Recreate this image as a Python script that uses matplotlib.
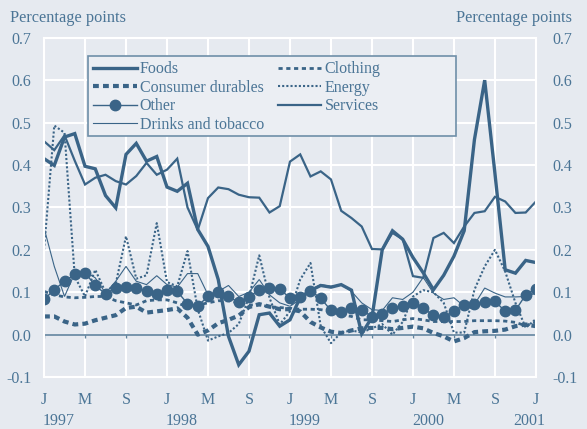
import matplotlib as mpl

mpl.use("Agg")

import matplotlib.pyplot as plt
import matplotlib.transforms as mtransforms
from matplotlib.patches import Rectangle
import numpy as np

# monthly data, Jan 1997 .. Jan 2001 (percentage points)
months = np.arange(49)
tick_labels = ["J", "M", "S"] * 4 + ["J"]
years = ["1997", "1998", "1999", "2000", "2001"]

foods = [0.415, 0.399, 0.466, 0.474, 0.397, 0.391, 0.328, 0.299, 0.425, 0.451,
         0.409, 0.420, 0.348, 0.338, 0.357, 0.248, 0.208, 0.130, -0.004, -0.071,
         -0.039, 0.047, 0.051, 0.020, 0.035, 0.088, 0.104, 0.116, 0.112, 0.118,
         0.105, 0.002, 0.041, 0.200, 0.245, 0.225, 0.182, 0.146, 0.106, 0.140,
         0.185, 0.245, 0.460, 0.600, 0.380, 0.153, 0.145, 0.175, 0.170]
durables = [0.043, 0.043, 0.031, 0.024, 0.026, 0.034, 0.040, 0.046, 0.063, 0.066,
            0.052, 0.055, 0.058, 0.062, 0.040, 0.000, 0.010, 0.027, 0.035, 0.045,
            0.065, 0.072, 0.066, 0.060, 0.060, 0.055, 0.030, 0.017, 0.007, 0.004,
            0.010, 0.015, 0.016, 0.016, 0.013, 0.016, 0.019, 0.015, 0.004, -0.004,
            -0.016, -0.008, 0.006, 0.008, 0.009, 0.012, 0.020, 0.024, 0.020]
other = [0.083, 0.106, 0.126, 0.142, 0.146, 0.116, 0.096, 0.110, 0.112, 0.110,
         0.104, 0.096, 0.106, 0.102, 0.073, 0.068, 0.090, 0.100, 0.090, 0.076,
         0.089, 0.106, 0.110, 0.108, 0.086, 0.089, 0.104, 0.086, 0.057, 0.053,
         0.063, 0.059, 0.042, 0.049, 0.062, 0.068, 0.075, 0.062, 0.046, 0.041,
         0.055, 0.071, 0.073, 0.077, 0.079, 0.055, 0.057, 0.094, 0.108]
drinks = [0.252, 0.161, 0.090, 0.145, 0.149, 0.134, 0.098, 0.126, 0.161, 0.126,
          0.118, 0.139, 0.118, 0.112, 0.144, 0.144, 0.094, 0.102, 0.116, 0.090,
          0.100, 0.130, 0.094, 0.075, 0.067, 0.083, 0.106, 0.118, 0.114, 0.118,
          0.102, 0.075, 0.059, 0.057, 0.087, 0.083, 0.100, 0.135, 0.098, 0.083,
          0.087, 0.067, 0.071, 0.110, 0.098, 0.089, 0.089, 0.090, 0.098]
clothing = [0.102, 0.094, 0.089, 0.087, 0.088, 0.090, 0.090, 0.080, 0.075, 0.070,
            0.080, 0.082, 0.082, 0.075, 0.065, 0.070, 0.075, 0.080, 0.080, 0.075,
            0.070, 0.070, 0.066, 0.064, 0.062, 0.060, 0.060, 0.059, 0.055, 0.047,
            0.043, 0.035, 0.035, 0.033, 0.031, 0.035, 0.038, 0.035, 0.031, 0.031,
            0.031, 0.031, 0.033, 0.033, 0.033, 0.032, 0.029, 0.021, 0.030]
energy = [0.200, 0.493, 0.476, 0.137, 0.090, 0.153, 0.100, 0.120, 0.232, 0.132,
          0.140, 0.263, 0.124, 0.114, 0.197, 0.060, -0.014, -0.004, 0.004, 0.025,
          0.088, 0.187, 0.087, 0.024, 0.055, 0.130, 0.169, 0.020, -0.020, 0.005,
          0.010, 0.005, 0.015, 0.025, 0.000, 0.030, 0.090, 0.105, 0.100, 0.075,
          0.005, 0.005, 0.106, 0.161, 0.200, 0.149, 0.075, 0.016, 0.037]
services = [0.456, 0.435, 0.470, 0.410, 0.354, 0.370, 0.377, 0.362, 0.354, 0.374,
            0.405, 0.377, 0.389, 0.415, 0.300, 0.247, 0.322, 0.347, 0.343, 0.330,
            0.324, 0.323, 0.288, 0.303, 0.408, 0.425, 0.373, 0.385, 0.366, 0.292,
            0.275, 0.255, 0.202, 0.201, 0.240, 0.225, 0.138, 0.134, 0.228, 0.240,
            0.216, 0.255, 0.287, 0.291, 0.325, 0.314, 0.287, 0.288, 0.314]

BG = "#e6eaf0"
LINE = "#3a6487"
TEXT = "#4b7596"

mpl.rcParams.update({
    "font.family": ["Liberation Serif", "DejaVu Serif"],
    "font.size": 11.5,
    "text.color": TEXT,
    "lines.solid_joinstyle": "miter",
})

fig = plt.figure(figsize=(5.87, 4.29), dpi=100, facecolor=BG)
ax = fig.add_axes([0.075, 0.121, 0.838, 0.791], facecolor=BG)

ax.plot(months, foods, color=LINE, lw=2.4, label="Foods")
ax.plot(months, durables, color=LINE, lw=3.0, dashes=(1.4, 1.0), label="Consumer durables")
ax.plot(months, other, color=LINE, lw=1.0, marker="o", ms=7.5, label="Other")
ax.plot(months, drinks, color=LINE, lw=0.8, label="Drinks and tobacco")
ax.plot(months, clothing, color=LINE, lw=2.0, dashes=(1.5, 1.3), label="Clothing")
ax.plot(months, energy, color=LINE, lw=1.5, dashes=(1.0, 1.0), label="Energy")
ax.plot(months, services, color=LINE, lw=1.6, label="Services")

ax.set_xlim(0, 48)
ax.set_ylim(-0.1, 0.7)
ticks = months[::4]
yticks = np.arange(-0.1, 0.71, 0.1)
ax.set_xticks(ticks, tick_labels)
ax.set_yticks(yticks, [f"{v:.1f}" for v in yticks])
ax.grid(True, color="white", lw=1.5)
ax.set_axisbelow(True)
for s in ax.spines.values():
    s.set_color("white")
    s.set_linewidth(1.5)
ax.tick_params(length=0, colors=TEXT, labelsize=11.5)
ax.tick_params(axis="x", pad=11)
ax.tick_params(axis="y", pad=9)

sec = ax.secondary_yaxis("right")
sec.set_yticks(yticks, [f"{v:.1f}" for v in yticks])
sec.tick_params(length=0, colors=TEXT, labelsize=11.5, pad=12)
for s in sec.spines.values():
    s.set_visible(False)

# zero line with small ticks
ax.axhline(0, color="#5f829d", lw=1.2, zorder=1.5)
ax.vlines(ticks, -0.008, 0, color="#5f829d", lw=1.0, zorder=1.5)

trans = mtransforms.blended_transform_factory(ax.transData, ax.transAxes)
for i, yr in enumerate(years[:-1]):
    ax.text(i * 12 - 0.1, -0.13, yr, transform=trans, ha="left", va="center", fontsize=11.5)
ax.text(48.9, -0.13, years[-1], transform=trans, ha="right", va="center", fontsize=11.5)

fig.text(0.017, 0.957, "Percentage points", ha="left", va="center", fontsize=11.8)
fig.text(0.975, 0.957, "Percentage points", ha="right", va="center", fontsize=11.8)

# legend box is wider than its entries
ax.add_patch(Rectangle((0.0894, 0.711), 0.748, 0.236, transform=ax.transAxes,
                       facecolor="#ebeef3", edgecolor="#6f8fa8", lw=1.2, zorder=4))
leg = ax.legend(loc="upper left", bbox_to_anchor=(0.089, 0.947), ncol=2,
                frameon=False, handlelength=2.7, handletextpad=0.2,
                columnspacing=0.9, labelspacing=0.15, borderpad=0.35,
                borderaxespad=0, fontsize=11.5)
leg.set_zorder(5)
for t in leg.get_texts():
    t.set_color(TEXT)

fig.savefig("out.png", dpi=100, facecolor=BG)
